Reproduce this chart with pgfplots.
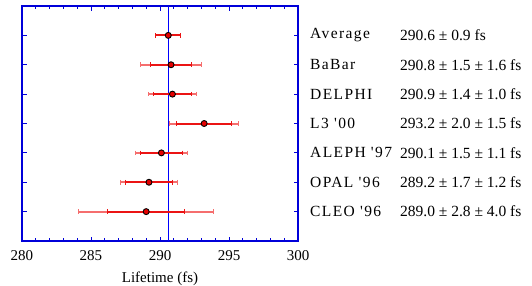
\documentclass[border=0pt]{standalone}
\usepackage{fontspec}
\setmainfont{Liberation Serif}
\usepackage{pgfplots}
\pgfplotsset{compat=1.18}
\newfontfamily\namefont[LetterSpace=9]{Liberation Serif}
\definecolor{barred}{RGB}{235,20,20}
\definecolor{totred}{RGB}{245,110,110}
\begin{document}
\begin{tikzpicture}
\useasboundingbox (-22pt,-44pt) rectangle (510pt,241pt);
\begin{axis}[
  scale only axis,
  width=276pt, height=235pt,
  xmin=280, xmax=300, ymin=0, ymax=8,
  axis line style={blue!85!black, line width=1.1pt},
  xtick={280,285,...,300},
  minor xtick={281,282,283,284,286,287,288,289,291,292,293,294,296,297,298,299},
  ytick={1,...,7}, yticklabels={},
  tick style={blue!85!black, line width=0.9pt},
  major tick length=4.5pt, minor tick length=3pt,
  tick align=inside,
  xticklabel style={font=\fontsize{15}{16}\selectfont, yshift=-6pt},
  /pgf/number format/assume math mode=true,
  xlabel={Lifetime (fs)},
  xlabel style={font=\fontsize{15}{16}\selectfont, yshift=-4pt},
  clip=false,
  tot/.style={totred, line width=2pt, mark=|, mark size=2.3pt, mark options={totred, line width=1pt, solid}},
  stat/.style={barred, line width=2pt, mark=|, mark size=2.3pt, mark options={barred, line width=1pt, solid}},
]
\addplot[blue, line width=0.9pt] coordinates {(290.6,0) (290.6,8)};
% total errors (stat (+) syst)
\addplot[tot] coordinates {(288.61,6) (292.99,6)};
\addplot[tot] coordinates {(289.18,5) (292.62,5)};
\addplot[tot] coordinates {(290.70,4) (295.70,4)};
\addplot[tot] coordinates {(288.24,3) (291.96,3)};
\addplot[tot] coordinates {(287.12,2) (291.28,2)};
\addplot[tot] coordinates {(284.12,1) (293.88,1)};
% statistical errors
\addplot[stat] coordinates {(289.7,7) (291.5,7)};
\addplot[stat] coordinates {(289.3,6) (292.3,6)};
\addplot[stat] coordinates {(289.5,5) (292.3,5)};
\addplot[stat] coordinates {(291.2,4) (295.2,4)};
\addplot[stat] coordinates {(288.6,3) (291.6,3)};
\addplot[stat] coordinates {(287.5,2) (290.9,2)};
\addplot[stat] coordinates {(286.2,1) (291.8,1)};
\addplot[only marks, mark=*, mark size=3pt, mark options={fill=red!90!black, draw=black, line width=0.9pt}]
  coordinates {(290.6,7) (290.8,6) (290.9,5) (293.2,4) (290.1,3) (289.2,2) (289.0,1)};
\foreach \n/\v/\y in {Average/290.6 ± 0.9 fs/7, BaBar/290.8 ± 1.5 ± 1.6 fs/6, DELPHI/290.9 ± 1.4 ± 1.0 fs/5, L3 '00/293.2 ± 2.0 ± 1.5 fs/4, ALEPH '97/290.1 ± 1.5 ± 1.1 fs/3, OPAL '96/289.2 ± 1.7 ± 1.2 fs/2, CLEO '96/289.0 ± 2.8 ± 4.0 fs/1} {
  \edef\temp{\noexpand\node[anchor=west, inner sep=0pt, font=\noexpand\fontsize{15.5}{16}\noexpand\selectfont\noexpand\namefont] at (axis cs:300,\y) [xshift=12pt] {\n};
  \noexpand\node[anchor=west, inner sep=0pt, font=\noexpand\fontsize{15.5}{16}\noexpand\selectfont] at (axis cs:300,\y) [xshift=102pt] {\v};}
  \temp
}
\end{axis}
\end{tikzpicture}
\end{document}
